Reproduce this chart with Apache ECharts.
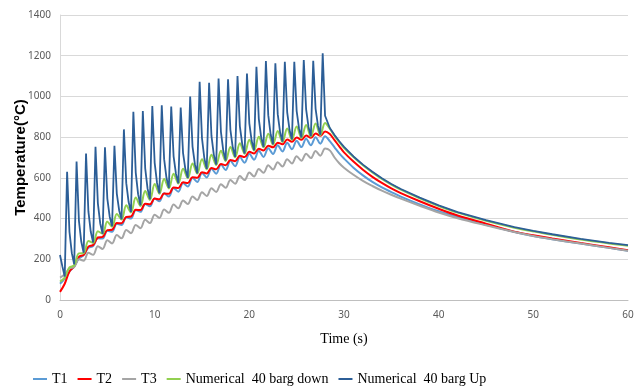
<!DOCTYPE html>
<html><head><meta charset="utf-8">
<script src="https://cdn.jsdelivr.net/npm/echarts@6/dist/echarts.min.js"></script>
<style>html,body{margin:0;padding:0;background:#fff}#c{width:643px;height:392px}</style>
</head><body><div id="c"></div>
<script>
// time grids (s)
const tHalf = [0,0.5,1,1.5,2,2.5,3,3.5,4,4.5,5,5.5,6,6.5,7,7.5,8,8.5,9,9.5,10,10.5,11,11.5,12,12.5,13,13.5,14,14.5,15,15.5,16,16.5,17,17.5,18,18.5,19,19.5,20,20.5,21,21.5,22,22.5,23,23.5,24,24.5,25,25.5,26,26.5,27,27.5,28];
const tQuarter = [0,0.25,0.5,0.75,1,1.25,1.5,1.75,2,2.25,2.5,2.75,3,3.25,3.5,3.75,4,4.25,4.5,4.75,5,5.25,5.5,5.75,6,6.25,6.5,6.75,7,7.25,7.5,7.75,8,8.25,8.5,8.75,9,9.25,9.5,9.75,10,10.25,10.5,10.75,11,11.25,11.5,11.75,12,12.25,12.5,12.75,13,13.25,13.5,13.75,14,14.25,14.5,14.75,15,15.25,15.5,15.75,16,16.25,16.5,16.75,17,17.25,17.5,17.75,18,18.25,18.5,18.75,19,19.25,19.5,19.75,20,20.25,20.5,20.75,21,21.25,21.5,21.75,22,22.25,22.5,22.75,23,23.25,23.5,23.75,24,24.25,24.5,24.75,25,25.25,25.5,25.75,26,26.25,26.5,26.75,27,27.25,27.5,27.75,28];
const tCool = [28.5,29,29.5,30,31,32,33,34,35,36,38,40,42,45,48,50,52,55,58,60];

// heating phase values (°C)
const t1Heat = [80,105,140,165,203,220,256,265,303,302,340,335,375,368,406,400,442,433,472,460,498,485,524,508,550,532,575,557,600,580,624,602,645,620,666,639,684,657,702,674,718,689,733,703,746,717,760,730,772,741,782,751,792,760,800,768,805];
const t2Heat = [40,80,140,165,212,222,262,270,307,310,343,345,378,377,408,410,443,442,473,470,498,495,523,522,553,550,578,575,603,600,628,622,648,642,668,662,688,682,708,702,728,720,743,735,758,750,773,765,788,777,798,787,808,797,818,807,828];
const t3Heat = [110,125,155,162,200,193,232,222,264,251,294,278,319,303,344,328,369,353,394,378,419,403,444,428,469,451,489,471,509,491,529,511,549,531,569,551,589,571,609,589,626,607,644,625,662,641,677,656,692,671,706,684,719,697,732,709,744];
const downHeat = [90,110,160,170,229,230,290,280,338,325,385,360,423,395,465,430,503,462,535,492,570,522,595,548,620,572,645,598,670,621,692,642,713,663,733,683,752,701,770,718,787,734,802,750,817,763,830,776,842,787,852,796,860,803,867,810,870];
const upHeat = [221,165,115,630,334,230,175,680,389,286,232,720,435,335,282,753,475,376,325,750,498,409,362,758,523,440,397,838,574,481,432,925,626,520,465,928,647,547,495,953,674,575,524,956,692,599,550,950,706,619,574,945,721,641,600,1000,754,667,622,1072,794,695,644,1067,806,713,665,1088,826,733,685,1084,836,749,703,1100,853,766,720,1113,868,781,736,1146,890,799,752,1174,908,814,765,1163,913,824,778,1170,922,835,789,1170,928,843,798,1179,936,850,805,1175,939,856,812,1212,905];

// cooling phase values (°C)
const t1Cool = [780,750,720,695,650,612,580,553,530,508,470,436,408,370,334,314,298,277,256,242];
const t2Cool = [815,785,755,725,680,640,605,575,548,525,485,448,415,375,336,318,302,280,259,244];
const t3Cool = [735,700,672,650,615,585,560,537,517,498,463,430,402,367,334,314,298,277,256,242];
const downCool = [842,806,776,748,702,662,627,595,567,542,500,462,429,389,355,337,320,297,278,267];
const upCool = [845,810,780,752,705,665,630,598,570,545,503,465,432,392,358,340,323,300,281,270];

const names = ['T1','T2','T3','Numerical  40 barg down','Numerical  40 barg Up'];
const colors = ['#5B9BD5','#FF0000','#A5A5A5','#92D050','#2C5E97'];

function pairs(times, vals, coolVals){
  return times.map((t,i)=>[t, vals[i]]).concat(tCool.map((t,i)=>[t, coolVals[i]]));
}
const seriesData = [
  pairs(tHalf, t1Heat, t1Cool),
  pairs(tHalf, t2Heat, t2Cool),
  pairs(tHalf, t3Heat, t3Cool),
  pairs(tHalf, downHeat, downCool),
  pairs(tQuarter, upHeat, upCool)
];

const chart = echarts.init(document.getElementById('c'));
chart.setOption({
  animation: false,
  color: colors,
  grid: {left: 60, right: 15, top: 15, bottom: 92, containLabel: false, outerBoundsMode: 'none'},
  legend: {
    bottom: 1, left: 28,
    icon: 'rect', itemWidth: 14, itemHeight: 2, itemGap: 10,
    textStyle: {fontFamily: 'Liberation Serif', fontSize: 14, color: '#000'},
    data: names
  },
  xAxis: {
    type: 'value', min: 0, max: 60, interval: 10,
    name: 'Time (s)', nameLocation: 'middle', nameGap: 32,
    nameTextStyle: {fontFamily: 'Liberation Serif', fontSize: 14, color: '#000'},
    axisLine: {show: true, lineStyle: {color: '#BFBFBF'}},
    axisTick: {show: false},
    axisLabel: {fontFamily: 'Noto Sans', fontSize: 10, color: '#595959', margin: 10},
    splitLine: {show: false}
  },
  yAxis: {
    type: 'value', min: 0, max: 1400, interval: 200,
    name: 'Temperature(°C)', nameLocation: 'middle', nameGap: 32, nameMoveOverlap: false,
    nameTextStyle: {fontFamily: 'Liberation Sans', fontSize: 15, fontWeight: 'bold', color: '#000'},
    axisLine: {show: true, lineStyle: {color: '#D9D9D9'}},
    axisTick: {show: false},
    axisLabel: {fontFamily: 'Noto Sans', fontSize: 10, color: '#595959', margin: 9,
      formatter: v => String(v)},
    splitLine: {show: true, lineStyle: {color: '#D9D9D9', width: 1}}
  },
  series: seriesData.map((d,i)=>({
    name: names[i], type: 'line', data: d,
    showSymbol: false, symbol: 'none',
    smooth: i === 4 ? false : 0.35,
    lineStyle: {width: i === 4 ? 1.8 : 2, color: colors[i]},
    z: 2 + i
  }))
});
</script></body></html>
